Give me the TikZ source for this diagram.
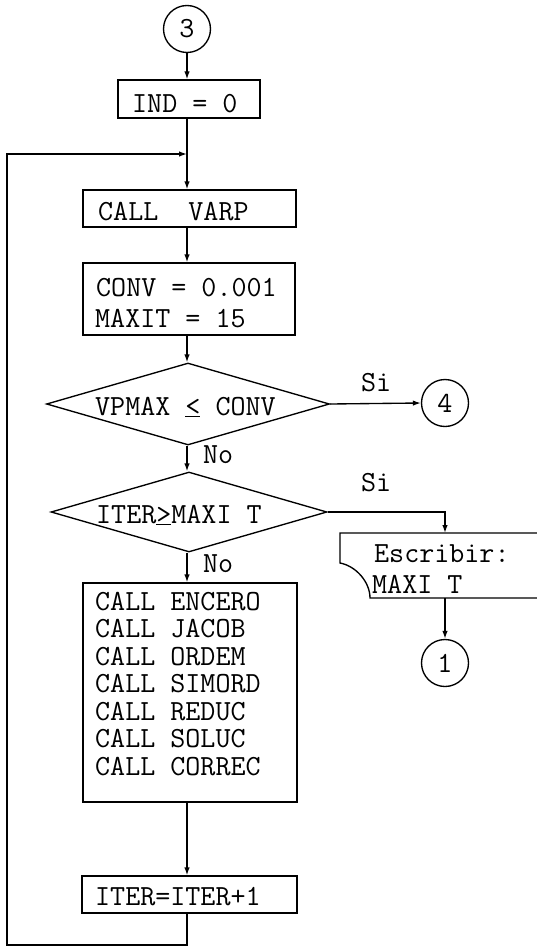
\documentclass[tikz,border=0pt]{standalone}
\usetikzlibrary{shapes.geometric,arrows.meta}
\begin{document}
\begin{tikzpicture}[x=1pt,y=-1pt,
  ln/.style={line width=1.35pt},
  arr/.style={ln,-{Latex[length=8pt,width=5.5pt]}},
  box/.style={draw,ln,rectangle,inner sep=0pt},
  conn/.style={draw,ln,circle,minimum size=47pt,inner sep=0pt,font=\ttfamily\fontsize{29.2}{29.2}\selectfont},
  dec/.style={draw,ln,diamond,inner sep=0pt},
  txt/.style={anchor=base west,inner sep=0pt,text height=17pt,text depth=0pt,font=\ttfamily\fontsize{29.2}{29.2}\selectfont}]
\useasboundingbox (0,0) rectangle (537,947);
\fill[white] (0,0) rectangle (537,947);
% connectors (circles)
\node[conn] (c3) at (187,29) {3};
\node[conn] (c4) at (445,403) {4};
\node[conn] (c1) at (445,663) {1};
% boxes
\node[box,minimum width=142pt,minimum height=38pt] (ind) at (189,99) {};
\node[txt] (tind) at (132,113) {IND = 0};
\node[box,minimum width=213pt,minimum height=37pt] (varp) at (189.5,208.5) {};
\node[txt] (tvarp) at (98,220) {CALL\ \ VARP};
\node[box,minimum width=212pt,minimum height=72pt] (conv) at (189,299) {};
\node[txt] (tconv1) at (96,296) {CONV = 0.001};
\node[txt] (tconv2) at (95,327) {MAXIT = 15};
% decisions
\node[dec,minimum width=283pt,minimum height=82pt] (d1) at (188,404) {};
\node[txt] (td1) at (95,415) {VPMAX \underline{<} CONV};
\node[dec,minimum width=276pt,minimum height=80pt] (d2) at (189,512) {};
\node[txt] (td2) at (96,523) {ITER\underline{>}MAXI T};
% big box
\node[box,minimum width=214pt,minimum height=219pt] (calls) at (190,692.5) {};
\node[txt] (l1) at (95,610) {CALL ENCERO};
\node[txt] (l2) at (95,637.5) {CALL JACOB};
\node[txt] (l3) at (95,665) {CALL ORDEM};
\node[txt] (l4) at (95,692.5) {CALL SIMORD};
\node[txt] (l5) at (95,720) {CALL REDUC};
\node[txt] (l6) at (95,747.5) {CALL SOLUC};
\node[txt] (l7) at (95,775) {CALL CORREC};
\node[box,minimum width=215pt,minimum height=37pt] (iter) at (189.5,894.5) {};
\node[txt] (titer) at (95,905) {ITER=ITER+1};
% output (display) shape
\coordinate (oTop) at (445,533);
\coordinate (oBot) at (445,598);
\draw[ln] (545,533) -- (340,533) -- (340,563) .. controls (356,566) and (370,582) .. (370,598) -- (545,598);
\node[txt] (tout1) at (374,562) {Escribir:};
\node[txt] (tout2) at (372,593) {MAXI T};
% labels
\node[txt] (si1) at (361,391) {Si};
\node[txt] (si2) at (361,491) {Si};
\node[txt] (no1) at (203,463) {No};
\node[txt] (no2) at (203,572) {No};
% flow
\draw[arr] (c3.south) -- (c3.south |- ind.north);
\coordinate (join) at (187,154);
\draw[arr] (ind.south -| c3.south) -- (c3.south |- varp.north);
\draw[arr] (varp.south -| c3.south) -- (c3.south |- conv.north);
\draw[arr] (conv.south -| c3.south) -- (c3.south |- d1.north);
\draw[arr] (d1.east) -- (c4.west);
\draw[arr] (d1.south -| c3.south) -- (c3.south |- d2.north);
\draw[arr] (d2.east) -| (oTop);
\draw[arr] (oBot) -- (c1.north);
\draw[arr] (d2.south -| c3.south) -- (c3.south |- calls.north);
\draw[arr] (calls.south -| c3.south) -- (c3.south |- iter.north);
\coordinate (loopBL) at (7,945);
\coordinate (loopTL) at (7,154);
\draw[arr] (iter.south -| c3.south) |- (loopBL) -- (loopTL) -- (join);
\end{tikzpicture}
\end{document}
